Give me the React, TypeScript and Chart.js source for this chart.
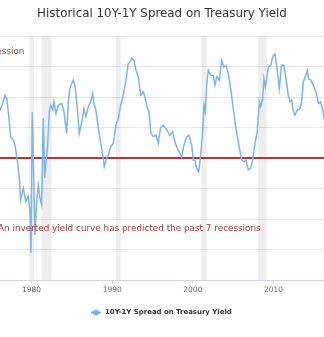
import React, { useEffect, useRef } from "react";
import { Chart, registerables } from "chart.js";

Chart.register(...registerables);

// ---- data ----
const years = [
  1976.1, 1976.43, 1976.72, 1976.93, 1977.13, 1977.42, 1977.75, 1977.96, 1978.24, 1978.49,
  1978.66, 1978.99, 1979.28, 1979.6, 1979.81, 1979.94, 1980.1, 1980.22, 1980.43, 1980.64,
  1980.84, 1981.05, 1981.26, 1981.46, 1981.64, 1981.8, 1981.96, 1982.21, 1982.38, 1982.63,
  1982.79, 1983.04, 1983.32, 1983.74, 1984.03, 1984.36, 1984.56, 1984.77, 1984.98, 1985.18,
  1985.39, 1985.68, 1985.92, 1986.22, 1986.51, 1986.75, 1987.04, 1987.34, 1987.58, 1987.74,
  1987.99, 1988.28, 1988.57, 1988.82, 1989.02, 1989.23, 1989.52, 1989.81, 1990.14, 1990.47,
  1990.76, 1991.05, 1991.38, 1991.71, 1991.99, 1992.21, 1992.42, 1992.7, 1992.95, 1993.23,
  1993.53, 1993.85, 1994.06, 1994.27, 1994.56, 1994.81, 1995.09, 1995.43, 1995.71, 1996.0,
  1996.33, 1996.75, 1997.16, 1997.49, 1997.78, 1998.07, 1998.4, 1998.61, 1998.9, 1999.23,
  1999.52, 1999.85, 2000.05, 2000.26, 2000.47, 2000.72, 2000.97, 2001.21, 2001.38, 2001.54,
  2001.71, 2001.91, 2002.21, 2002.53, 2002.74, 2002.95, 2003.27, 2003.57, 2003.85, 2004.1,
  2004.39, 2004.68, 2005.01, 2005.34, 2005.63, 2005.84, 2006.05, 2006.33, 2006.58, 2006.87,
  2007.16, 2007.41, 2007.7, 2007.98, 2008.23, 2008.41, 2008.65, 2008.81, 2008.98, 2009.15,
  2009.35, 2009.65, 2009.89, 2010.17, 2010.46, 2010.71, 2011.0, 2011.29, 2011.54, 2011.82,
  2012.03, 2012.24, 2012.44, 2012.65, 2012.94, 2013.27, 2013.48, 2013.68, 2013.93, 2014.18,
  2014.35, 2014.63, 2014.92, 2015.25, 2015.58, 2015.83, 2016.15, 2016.25,
];

const spread = [
  1.57, 1.79, 2.06, 1.95, 1.51, 0.7, 0.59, 0.42, -0.07, -0.66,
  -1.37, -0.99, -1.43, -1.26, -1.75, -3.11, 1.51, 0.1, -2.52, -1.43,
  -0.88, -1.32, -1.54, 1.3, -0.66, -0.12, 0.21, 1.51, 1.73, 1.57,
  1.84, 1.46, 1.73, 1.79, 1.51, 0.81, 1.84, 2.28, 2.44, 2.55,
  2.39, 1.62, 0.81, 1.15, 1.62, 1.35, 1.68, 1.84, 2.11, 1.79,
  1.57, 0.97, 0.53, 0.1, -0.28, -0.07, 0.1, 0.37, 0.48, 1.08,
  1.3, 1.73, 2.06, 2.55, 3.09, 3.15, 3.28, 3.2, 2.88, 2.66,
  2.06, 2.17, 2.0, 1.73, 1.51, 0.81, 0.7, 0.75, 0.48, 1.0,
  1.08, 0.92, 0.75, 0.86, 0.53, 0.32, 0.15, 0.04, 0.42, 0.7,
  0.75, 0.42, -0.07, -0.07, -0.34, -0.45, 0.1, 0.86, 1.73, 1.51,
  2.39, 2.88, 2.71, 2.71, 2.39, 2.66, 2.55, 3.2, 2.98, 3.04,
  2.77, 2.28, 1.62, 0.97, 0.53, 0.21, -0.07, -0.12, -0.07, -0.39,
  -0.34, -0.07, 0.48, 0.86, 1.84, 1.68, 1.95, 2.6, 2.33, 2.6,
  2.98, 3.04, 3.31, 3.42, 2.88, 2.28, 3.04, 3.04, 2.6, 2.06,
  1.84, 1.9, 1.57, 1.41, 1.57, 1.62, 1.84, 2.49, 2.66, 2.88,
  2.6, 2.55, 2.39, 2.17, 1.79, 1.84, 1.51, 1.3,
];

const tickYears = [1980, 1990, 2000, 2010];
const recessionStarts = [1979.73, 1981.26, 1990.47, 2001.09, 2008.1];
const recessionEnds = [1980.31, 1982.5, 1991.05, 2001.71, 2009.15];

const chartTitle = "Historical 10Y-1Y Spread on Treasury Yield";
const seriesName = "10Y-1Y Spread on Treasury Yield";
const noteTop = "Recession";
const noteBottom = "An inverted yield curve has predicted the past 7 recessions";

const X_MIN = 1976.1;
const X_MAX = 2016.25;
const LINE_COLOR = "#7cb5ec";
const FONT = "'DejaVu Sans', 'Open Sans', sans-serif";

function fitSize(ctx: CanvasRenderingContext2D, text: string, target: number, weight: string) {
  ctx.font = `${weight} 10px ${FONT}`;
  const w = ctx.measureText(text).width;
  return (10 * target) / w;
}

const decorPlugin = {
  id: "decor",
  beforeDatasetsDraw(chart: any) {
    const { ctx, chartArea, scales } = chart;
    const xs = scales.x;
    const ys = scales.y;
    ctx.save();
    ctx.fillStyle = "rgba(0,0,0,0.065)";
    recessionStarts.forEach((s, i) => {
      const x0 = xs.getPixelForValue(s);
      const x1 = xs.getPixelForValue(recessionEnds[i]);
      ctx.fillRect(x0, chartArea.top, x1 - x0, chartArea.bottom - chartArea.top);
    });
    const y0 = Math.round(ys.getPixelForValue(0));
    ctx.strokeStyle = "#c0302d";
    ctx.lineWidth = 2;
    ctx.beginPath();
    ctx.moveTo(chartArea.left, y0);
    ctx.lineTo(chartArea.right, y0);
    ctx.stroke();
    ctx.restore();
  },
  afterDraw(chart: any) {
    const { ctx, scales } = chart;
    const xs = scales.x;
    const ys = scales.y;
    ctx.save();
    // title
    let s = fitSize(ctx, chartTitle, 250, "normal");
    ctx.font = `normal ${s}px ${FONT}`;
    ctx.fillStyle = "#333333";
    ctx.textAlign = "center";
    ctx.textBaseline = "middle";
    ctx.fillText(chartTitle, 162, 14);

    // annotations
    s = fitSize(ctx, noteBottom, 263, "normal");
    ctx.font = `normal ${s}px ${FONT}`;
    ctx.fillStyle = "#a83a36";
    ctx.textAlign = "left";
    ctx.fillText(noteBottom, xs.getPixelForValue(1975.85), ys.getPixelForValue(-2.33));
    ctx.textAlign = "right";
    ctx.fillText(noteTop, xs.getPixelForValue(1979.13), ys.getPixelForValue(3.5));

    // legend
    s = fitSize(ctx, seriesName, 127, "bold");
    const ly = 312.5;
    ctx.strokeStyle = LINE_COLOR;
    ctx.lineWidth = 2;
    ctx.beginPath();
    ctx.moveTo(91, ly);
    ctx.lineTo(101, ly);
    ctx.stroke();
    ctx.fillStyle = LINE_COLOR;
    ctx.beginPath();
    ctx.arc(96, ly, 3, 0, Math.PI * 2);
    ctx.fill();
    ctx.font = `bold ${s}px ${FONT}`;
    ctx.fillStyle = "#333333";
    ctx.textAlign = "left";
    ctx.fillText(seriesName, 105, ly);
    ctx.restore();
  },
};

export default function App() {
  const ref = useRef<HTMLCanvasElement | null>(null);
  useEffect(() => {
    if (!ref.current) return;
    const chart = new Chart(ref.current, {
      type: "line",
      data: {
        datasets: [
          {
            label: seriesName,
            data: years.map((yr, i) => ({ x: yr, y: spread[i] })),
            borderColor: LINE_COLOR,
            backgroundColor: LINE_COLOR,
            borderWidth: 1.5,
            pointRadius: 0,
            tension: 0,
            fill: false,
          },
        ],
      },
      options: {
        animation: false,
        responsive: false,
        devicePixelRatio: 1,
        layout: { padding: { top: 36, left: 0, right: 0, bottom: 37 } },
        plugins: {
          legend: { display: false },
          title: { display: false },
          tooltip: { enabled: false },
        },
        scales: {
          x: {
            type: "linear",
            min: X_MIN,
            max: X_MAX,
            afterBuildTicks: (scale: any) => {
              scale.ticks = tickYears.map((v) => ({ value: v }));
            },
            afterFit: (scale: any) => {
              scale.height = 20;
            },
            ticks: {
              color: "#666666",
              font: { family: FONT, size: 7.5 },
              padding: 2,
              maxRotation: 0,
              autoSkip: false,
              callback: (v: any) => String(v),
            },
            grid: {
              drawOnChartArea: false,
              drawTicks: true,
              tickLength: 4,
              color: "#ccd6eb",
            },
            border: { display: true, color: "#ccd6eb" },
          },
          y: {
            min: -4,
            max: 4,
            ticks: { display: false, stepSize: 1 },
            grid: { color: "#e6e6e6", drawTicks: false },
            border: { display: false },
          },
        },
      },
      plugins: [decorPlugin],
    });
    return () => chart.destroy();
  }, []);
  return (
    <div style={{ position: "fixed", left: 0, top: 0, width: 324, height: 337, background: "#fff" }}>
      <canvas ref={ref} width={324} height={337} style={{ display: "block" }} />
    </div>
  );
}
